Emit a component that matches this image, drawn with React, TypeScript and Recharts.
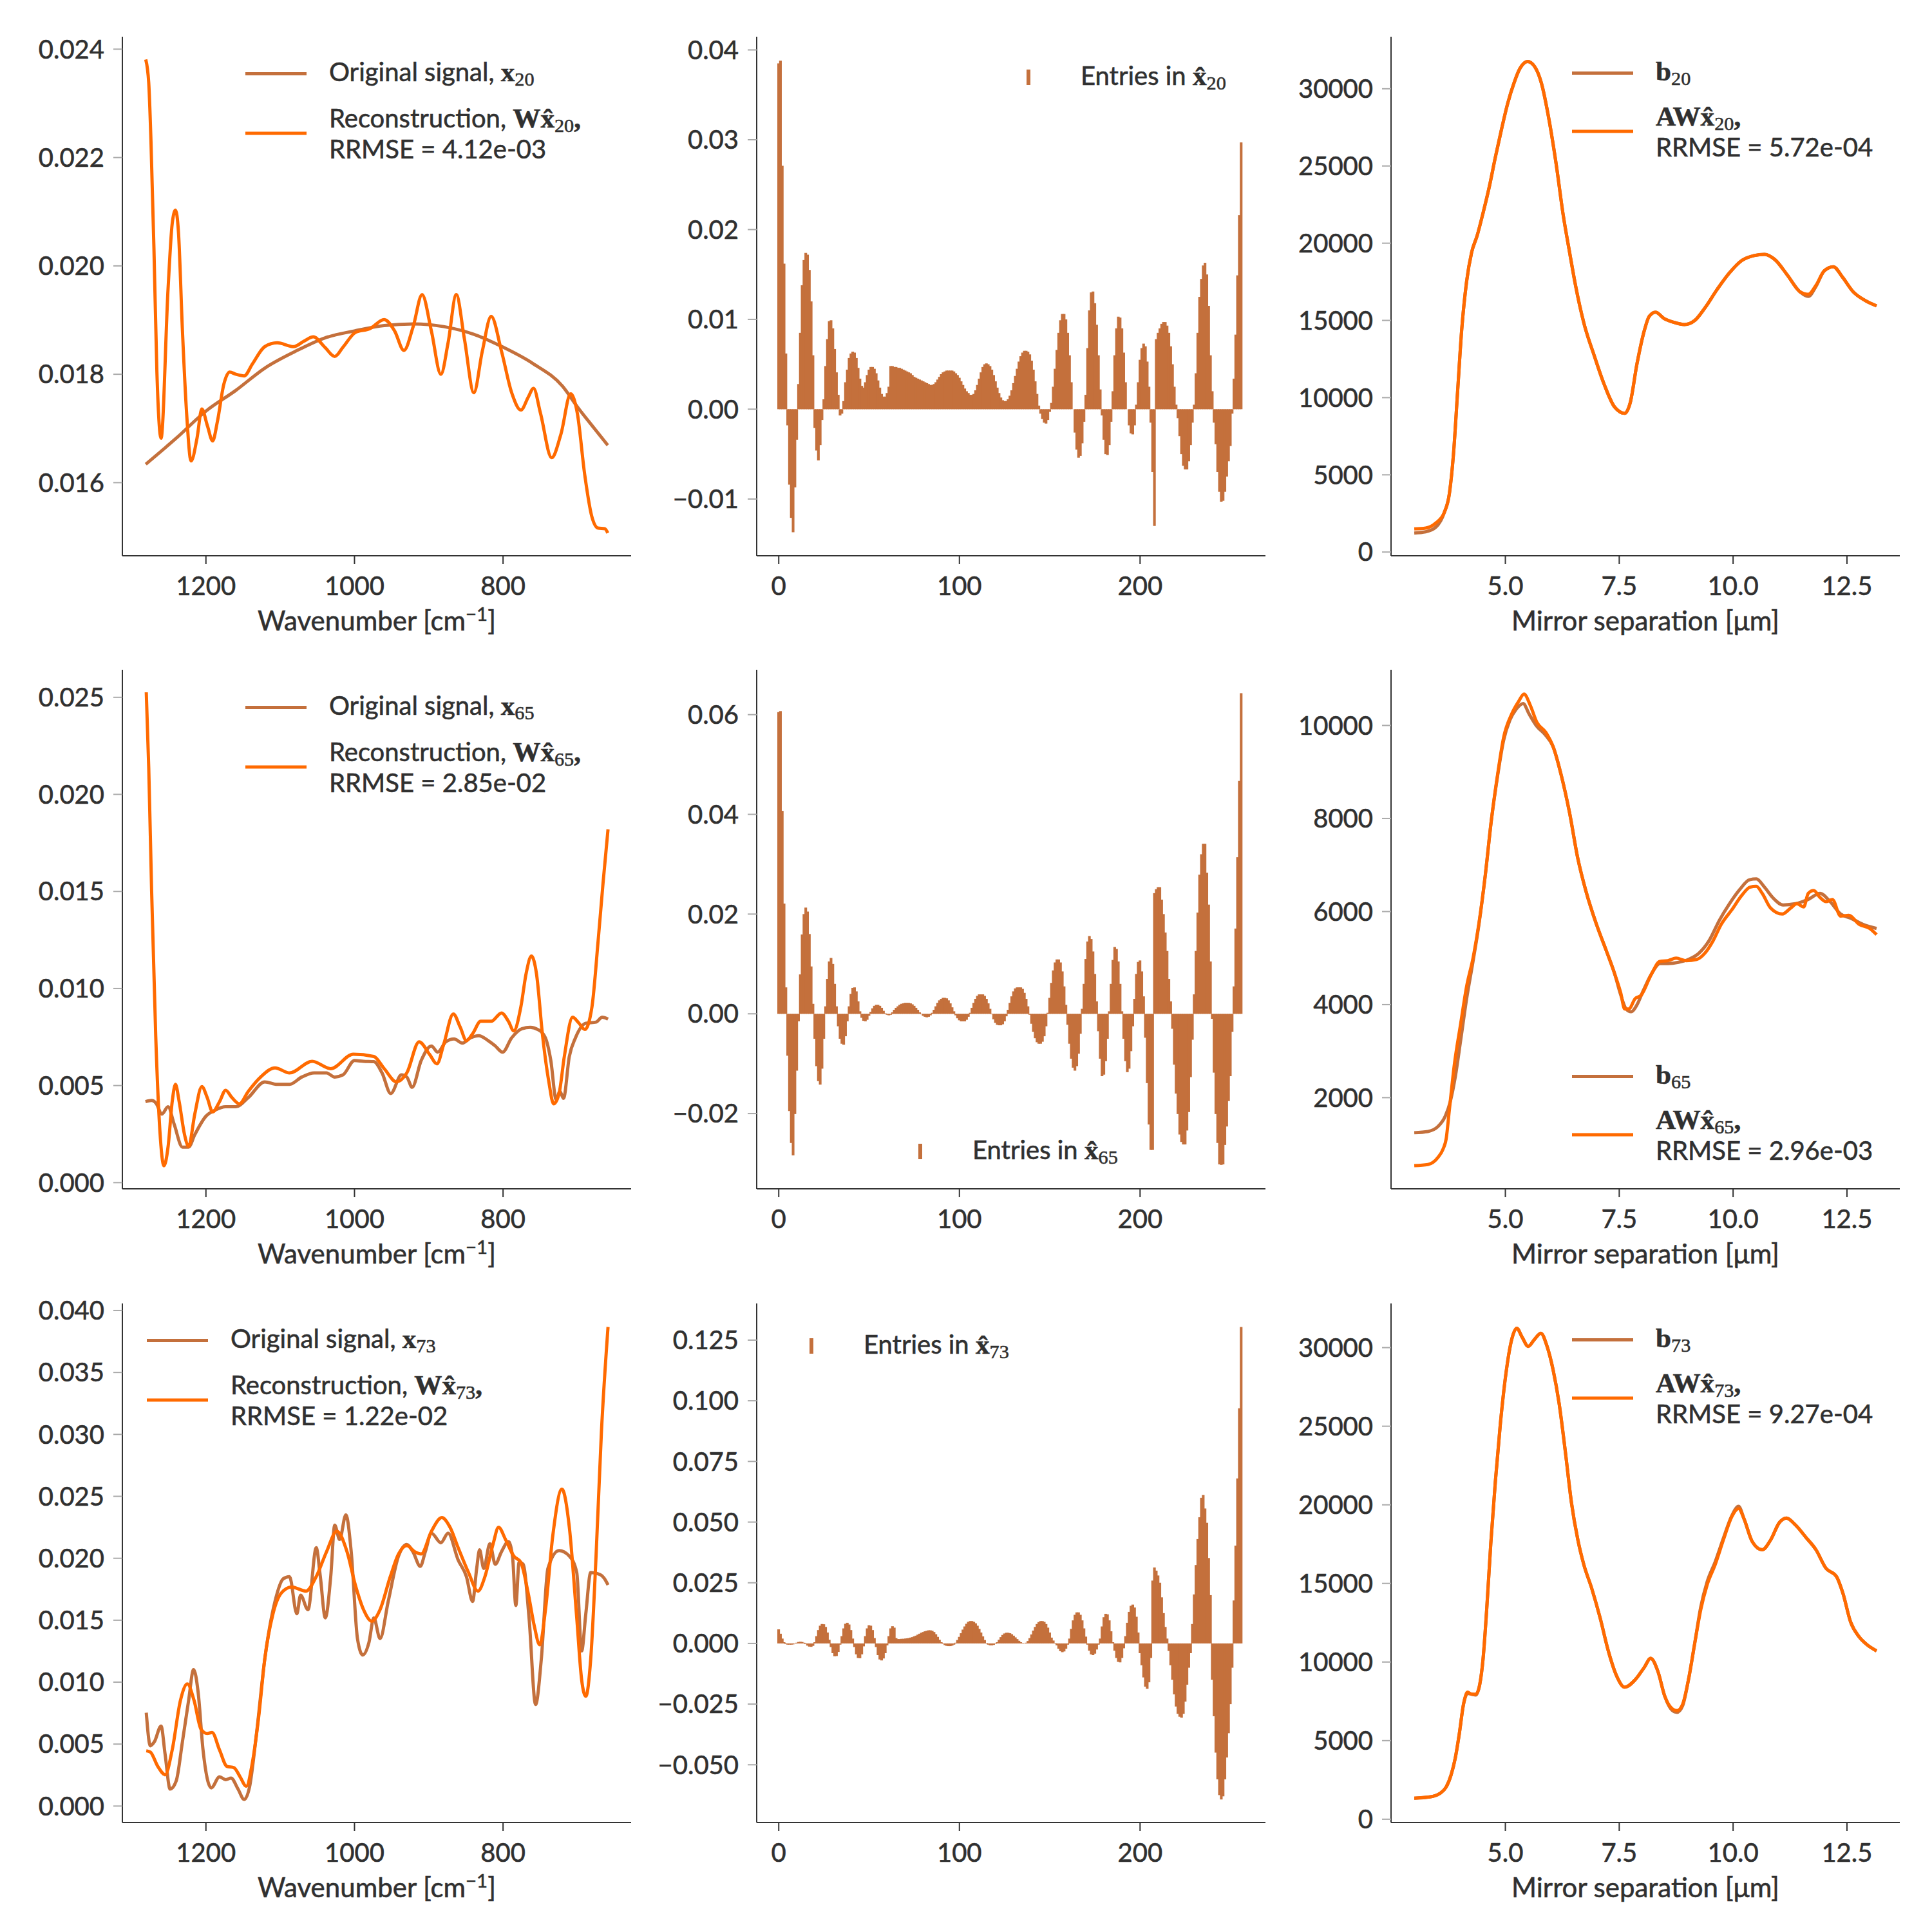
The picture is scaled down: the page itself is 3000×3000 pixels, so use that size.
import React from "react";
import { LineChart, Line, BarChart, Bar, XAxis, YAxis } from "recharts";

const BROWN = "#c4703c";
const ORANGE = "#ff6a00";
const TEXT = "#303030";
const FONT = "Lato, 'Noto Sans', sans-serif";
const MATH = "'Liberation Serif', 'DejaVu Serif', serif";

// plot area grid (px)
const COLS = [190, 1175, 2160];
const ROWS = [57, 1040, 2024];
const PW = 790;
const PH = 806;
const YW = 180;
const XH = 140;
const MT = 40;
const MR = 10;
const LW = 5;

// ---- wavenumber panels: [wavenumber, value]
const orig20: [number, number][] = [
  [1281, 0.01634], [1240, 0.01682], [1200, 0.01732], [1160, 0.0177], [1120, 0.01812], [1080, 0.01842],
  [1040, 0.01867], [1000, 0.0188], [960, 0.0189], [920, 0.01893], [880, 0.01888], [840, 0.01874],
  [800, 0.0185], [760, 0.0182], [720, 0.01778], [700, 0.0174], [680, 0.01705], [659, 0.01669],
];
const rec20: [number, number][] = [
  [1281, 0.02381], [1277, 0.02338], [1274, 0.02231], [1270, 0.02033], [1266, 0.01804], [1260.4, 0.01682],
  [1251, 0.01957], [1245.4, 0.02078], [1241, 0.02103], [1237, 0.02063], [1231.6, 0.0188], [1226, 0.01728],
  [1220, 0.0164], [1212, 0.01682], [1205.5, 0.01736], [1198, 0.01705], [1191, 0.01677], [1184.5, 0.01713],
  [1176, 0.01781], [1168, 0.01804], [1159.6, 0.018], [1148.5, 0.01797], [1137.4, 0.01819], [1120.8, 0.01851],
  [1104, 0.01858], [1082, 0.01851], [1068, 0.01861], [1055.4, 0.01869], [1040, 0.0185], [1026.6, 0.01833],
  [1015.5, 0.0185], [998.9, 0.01877], [979.5, 0.01884], [960, 0.01901], [946, 0.0188], [933.5, 0.01844],
  [921, 0.01888], [909, 0.01947], [896.5, 0.0188], [883.7, 0.018], [874, 0.01858], [863, 0.01947],
  [852, 0.01865], [839.3, 0.01766], [828, 0.01842], [816, 0.01907], [802, 0.01842], [788.4, 0.01766],
  [776, 0.01734], [766, 0.01758], [759, 0.01774], [749.6, 0.01728], [734.6, 0.01646], [722, 0.0169],
  [709, 0.01764], [700, 0.01728], [690, 0.01614], [680.6, 0.01538], [672, 0.01516], [663, 0.01515], [659, 0.01507],
];
const orig65: [number, number][] = [
  [1281.4, 0.00417], [1273.1, 0.00423], [1267, 0.00408], [1259.3, 0.00353], [1251, 0.00391], [1242.7, 0.003],
  [1231.6, 0.00183], [1223.3, 0.00183], [1215, 0.00247], [1200, 0.00342], [1187.3, 0.00374], [1173.4, 0.00391],
  [1159.6, 0.00391], [1143, 0.00438], [1120.8, 0.00519], [1104.2, 0.00506], [1087.5, 0.00506], [1070.9, 0.00544],
  [1054.3, 0.00565], [1037.7, 0.00565], [1026.6, 0.00544], [1015.5, 0.00555], [1000, 0.00629], [987.8, 0.00625],
  [973.9, 0.00623], [962.9, 0.00565], [951.2, 0.00459], [936.8, 0.00555], [929.6, 0.00544], [922.4, 0.00491],
  [910.2, 0.00629], [896.4, 0.00704], [888.1, 0.00672], [877, 0.00725], [865.9, 0.0074], [854.8, 0.00719],
  [843.8, 0.00746], [832.7, 0.00757], [821.6, 0.00736], [810.5, 0.00704], [800.6, 0.00672], [788.4, 0.00746],
  [774.5, 0.00793], [763.5, 0.008], [752.4, 0.00787], [743, 0.00746], [735.7, 0.00629], [728.5, 0.00427],
  [723.5, 0.0047], [718.6, 0.00434], [710.8, 0.0065], [702.5, 0.00746], [688.6, 0.00821], [674.8, 0.00827],
  [666.5, 0.00852], [658.7, 0.00842],
];
const rec65: [number, number][] = [
  [1280.3, 0.02526], [1277, 0.02139], [1273.1, 0.01501], [1267.6, 0.00757], [1262, 0.00268], [1256.5, 0.00087],
  [1251, 0.00183], [1245.4, 0.00417], [1241, 0.00506], [1236, 0.00417], [1228.8, 0.00247], [1223.3, 0.00187],
  [1215, 0.00353], [1205.5, 0.00495], [1198.3, 0.00438], [1191, 0.00364], [1181.7, 0.00417], [1173.4, 0.00476],
  [1165, 0.00438], [1155, 0.00406], [1143, 0.0047], [1126.3, 0.00544], [1107, 0.00591], [1087.5, 0.00565],
  [1057, 0.00625], [1032, 0.00587], [1001.7, 0.00661], [974, 0.0065], [960, 0.00587], [943.5, 0.00519],
  [929.6, 0.00565], [913, 0.00725], [899, 0.00661], [889, 0.00612], [879.8, 0.00714], [867, 0.00869],
  [857.6, 0.008], [849.3, 0.00731], [841, 0.00767], [830, 0.00831], [816, 0.00831], [802, 0.00874],
  [792.8, 0.00831], [785.6, 0.00782], [776, 0.00906], [769, 0.01076], [761.8, 0.01167], [755, 0.01076],
  [746.8, 0.00757], [738.5, 0.00523], [731.9, 0.00406], [724.6, 0.00459], [717.5, 0.0065], [706.4, 0.00852],
  [698.6, 0.00825], [689.8, 0.00789], [680.3, 0.00906], [672, 0.01246], [665.4, 0.01543], [658.7, 0.0182],
];
const orig73: [number, number][] = [
  [1280.3, 0.00753], [1274.8, 0.00486], [1269.3, 0.0052], [1260.4, 0.00646], [1255, 0.0042], [1248.2, 0.00137],
  [1240, 0.00203], [1231.6, 0.0052], [1223.3, 0.00853], [1216.6, 0.01102], [1210.5, 0.00919], [1203.9, 0.00453],
  [1192.8, 0.00147], [1181.7, 0.00236], [1173.4, 0.00213], [1166.2, 0.00226], [1156.8, 0.00137], [1148.5, 0.00053],
  [1141.3, 0.00153], [1131.9, 0.00586], [1120.8, 0.01186], [1107, 0.01652], [1095.8, 0.01835], [1087.5, 0.01852],
  [1077.6, 0.01552], [1072.6, 0.01702], [1062.6, 0.01585], [1051.5, 0.02085], [1046, 0.01852], [1039.3, 0.01519],
  [1032, 0.01852], [1026.6, 0.02268], [1020, 0.02152], [1011.6, 0.02351], [1004.4, 0.02052], [996, 0.01352],
  [988.9, 0.01219], [980.6, 0.01319], [974, 0.01519], [965.6, 0.01352], [954.6, 0.01652], [940.7, 0.02018],
  [929.6, 0.02112], [921.3, 0.02052], [911.4, 0.01935], [904.7, 0.02052], [896.4, 0.02202], [883.7, 0.02125],
  [874, 0.02202], [860.4, 0.01985], [849.3, 0.01852], [841, 0.01652], [835.5, 0.01918], [831.6, 0.02068],
  [826, 0.01918], [817.7, 0.02118], [810.5, 0.01952], [802.2, 0.02052], [792.8, 0.02135], [787.3, 0.02018],
  [782.8, 0.01619], [778.4, 0.01968], [772.9, 0.01952], [765, 0.01519], [756.2, 0.00819], [748.5, 0.01186],
  [739.6, 0.01918], [724.6, 0.02062], [710.8, 0.02018], [700.8, 0.01885], [694.2, 0.01252], [688.6, 0.01552],
  [682, 0.01885], [669.3, 0.01868], [664, 0.0184], [658.7, 0.01785],
];
const rec73: [number, number][] = [
  [1280.3, 0.00446], [1274.8, 0.00436], [1264.8, 0.0032], [1254.8, 0.00253], [1245.4, 0.00453], [1234.3, 0.00853],
  [1225, 0.00986], [1216, 0.00853], [1206.6, 0.0062], [1198.3, 0.00586], [1191.7, 0.00593], [1181.7, 0.00453],
  [1171.7, 0.0032], [1162.3, 0.0031], [1154, 0.00236], [1145.7, 0.0016], [1137.4, 0.00353], [1129, 0.00719],
  [1120.8, 0.01186], [1109.7, 0.01552], [1098.6, 0.01719], [1084.8, 0.01769], [1065.4, 0.01735], [1051.5, 0.01852],
  [1037.7, 0.02052], [1023.8, 0.02218], [1010, 0.02052], [998.9, 0.01785], [987.8, 0.01585], [976.7, 0.01492],
  [965.6, 0.01585], [951.8, 0.01852], [940.7, 0.02035], [929.6, 0.02102], [918.6, 0.02052], [910.2, 0.02035],
  [896.4, 0.02218], [882.5, 0.02328], [871.5, 0.02252], [860.4, 0.02085], [846.5, 0.01885], [833.8, 0.01735],
  [824.4, 0.01852], [813.3, 0.02118], [806.1, 0.02251], [796.7, 0.02152], [785.6, 0.02018], [776.2, 0.01968],
  [766.2, 0.01719], [757.9, 0.01452], [750.7, 0.01302], [742.9, 0.01585], [733, 0.02185], [720.8, 0.02558],
  [710.8, 0.02252], [700.8, 0.01519], [694.2, 0.01019], [688.6, 0.00886], [682, 0.01186], [674.8, 0.02018],
  [667.6, 0.03017], [658.7, 0.03867],
];

// ---- coefficient panels: entries 0..256
const xhat20 = [
  0.0385, 0.0388, 0.0271, 0.0162, 0.0062, -0.0018, -0.0084, -0.0121, -0.0137, -0.0087,
  -0.0034, 0.0028, 0.0085, 0.0138, 0.0166, 0.0174, 0.0172, 0.0155, 0.012, 0.006,
  -0.0021, -0.0046, -0.0057, -0.004, -0.0012, 0.0011, 0.0048, 0.0078, 0.0098, 0.0099,
  0.009, 0.0067, 0.0041, 0.0016, -0.0007, -0.0005, 0.0009, 0.003, 0.0044, 0.0057,
  0.0062, 0.0064, 0.0063, 0.0057, 0.0046, 0.0034, 0.0026, 0.0024, 0.003, 0.0038,
  0.0044, 0.0047, 0.0047, 0.0045, 0.004, 0.0032, 0.0024, 0.0017, 0.0014, 0.0014,
  0.0018, 0.0025, 0.0048, 0.0048, 0.0047, 0.0047, 0.0046, 0.0046, 0.0045, 0.0044,
  0.0043, 0.0042, 0.0041, 0.004, 0.0038, 0.0036, 0.0035, 0.0034, 0.0033, 0.0032,
  0.0031, 0.003, 0.0029, 0.0028, 0.0027, 0.0027, 0.0028, 0.003, 0.0033, 0.0036,
  0.0039, 0.0041, 0.0042, 0.0043, 0.0043, 0.0043, 0.0043, 0.0042, 0.004, 0.0038,
  0.0035, 0.0031, 0.0027, 0.0023, 0.002, 0.0018, 0.0016, 0.0016, 0.0017, 0.0021,
  0.0027, 0.0034, 0.0041, 0.0047, 0.005, 0.0051, 0.005, 0.0048, 0.0044, 0.0038,
  0.0031, 0.0024, 0.0018, 0.0013, 0.001, 0.0009, 0.0009, 0.0011, 0.0015, 0.0021,
  0.0029, 0.0037, 0.0045, 0.0053, 0.0059, 0.0063, 0.0065, 0.0065, 0.0064, 0.0061,
  0.0054, 0.0044, 0.0031, 0.0017, 0.0004, -0.0005, -0.0011, -0.0015, -0.0016, -0.0012,
  -0.0003, 0.0007, 0.0025, 0.0045, 0.0066, 0.0085, 0.0099, 0.0106, 0.0106, 0.01,
  0.0085, 0.006, 0.003, 0.0, -0.0026, -0.0045, -0.0054, -0.0052, -0.0038, -0.0014,
  0.0016, 0.0068, 0.011, 0.013, 0.0131, 0.0118, 0.0094, 0.006, 0.0022, -0.0007,
  -0.0034, -0.005, -0.0051, -0.004, -0.0014, 0.002, 0.006, 0.009, 0.0103, 0.0102,
  0.009, 0.0063, 0.003, 0.0, -0.0018, -0.0027, -0.0028, -0.0018, 0.0005, 0.003,
  0.0055, 0.0068, 0.0073, 0.007, 0.0053, 0.0025, -0.0015, -0.007, -0.013, 0.0078,
  0.0085, 0.009, 0.0095, 0.0097, 0.0097, 0.0093, 0.0085, 0.007, 0.005, 0.0025,
  0.0005, -0.001, -0.003, -0.005, -0.0063, -0.0067, -0.0067, -0.0058, -0.004, -0.0015,
  0.0005, 0.004, 0.0085, 0.0125, 0.0145, 0.016, 0.0163, 0.015, 0.0115, 0.006,
  0.002, -0.0015, -0.0039, -0.007, -0.0092, -0.0103, -0.0102, -0.0092, -0.0075, -0.0058,
  -0.0041, -0.0005, 0.0034, 0.0083, 0.0149, 0.0216, 0.0297,
];
const xhat65 = [
  0.0605, 0.0607, 0.0407, 0.0221, 0.0053, -0.0084, -0.0195, -0.0259, -0.0284, -0.0201,
  -0.0114, -0.0015, 0.0079, 0.0159, 0.02, 0.0213, 0.0205, 0.016, 0.0095, 0.002,
  -0.005, -0.0105, -0.0135, -0.0142, -0.011, -0.005, 0.0015, 0.007, 0.0105, 0.0112,
  0.01, 0.006, 0.0015, -0.0025, -0.005, -0.006, -0.0062, -0.0045, -0.0015, 0.0015,
  0.004, 0.0052, 0.0053, 0.0045, 0.0025, 0.0005, -0.0008, -0.0014, -0.0015, -0.0012,
  -0.0004, 0.0004, 0.0011, 0.0016, 0.0018, 0.0018, 0.0016, 0.0012, 0.0006, 0.0001,
  -0.0002, -0.0003, -0.0002, 0.0003, 0.0008, 0.0012, 0.0015, 0.0018, 0.002, 0.0021,
  0.0022, 0.0022, 0.0022, 0.0021, 0.0019, 0.0016, 0.0012, 0.0008, 0.0003, -0.0001,
  -0.0004, -0.0006, -0.0007, -0.0006, -0.0003, 0.0002, 0.0008, 0.0015, 0.0022, 0.0027,
  0.003, 0.0032, 0.0032, 0.0031, 0.0027, 0.0021, 0.0013, 0.0005, -0.0003, -0.0009,
  -0.0013, -0.0015, -0.0015, -0.0015, -0.0012, -0.0006, 0.0002, 0.0012, 0.0022, 0.003,
  0.0036, 0.0039, 0.0039, 0.0039, 0.0036, 0.003, 0.0021, 0.001, -0.0001, -0.0011,
  -0.0018, -0.0022, -0.0023, -0.0023, -0.0021, -0.0015, -0.0005, 0.0008, 0.0022, 0.0035,
  0.0045, 0.0051, 0.0053, 0.0053, 0.0053, 0.005, 0.0042, 0.003, 0.0015, -0.0002,
  -0.002, -0.0036, -0.0049, -0.0057, -0.006, -0.006, -0.0056, -0.0045, -0.0025, 0.0002,
  0.0032, 0.0062, 0.0087, 0.0103, 0.0109, 0.0109, 0.0103, 0.0085, 0.0055, 0.0018,
  -0.0022, -0.006, -0.009, -0.0108, -0.0114, -0.0105, -0.008, -0.004, 0.001, 0.006,
  0.011, 0.0145, 0.0156, 0.015, 0.0125, 0.008, 0.0025, -0.0035, -0.009, -0.0125,
  -0.0122, -0.0095, -0.005, 0.0005, 0.006, 0.0108, 0.0134, 0.013, 0.0105, 0.006,
  0.0005, -0.005, -0.0095, -0.0117, -0.011, -0.0075, -0.0025, 0.003, 0.008, 0.0104,
  0.0107, 0.0085, 0.0035, -0.0048, -0.0139, -0.0222, -0.0273, -0.0273, 0.0242, 0.025,
  0.0254, 0.0254, 0.0229, 0.02, 0.0163, 0.0126, 0.007, 0.0025, -0.003, -0.0102,
  -0.016, -0.0201, -0.0242, -0.0257, -0.0262, -0.0262, -0.0234, -0.0197, -0.0127, -0.0052,
  0.0039, 0.0126, 0.0203, 0.0279, 0.032, 0.0341, 0.0341, 0.0283, 0.0219, 0.0105,
  -0.001, -0.0118, -0.0201, -0.0259, -0.0302, -0.0303, -0.0302, -0.0263, -0.0226, -0.0175,
  -0.0125, -0.0036, 0.0055, 0.0171, 0.0314, 0.0467, 0.0643,
];
const xhat73 = [
  0.0058, 0.004, 0.002, 0.0005, -0.0003, -0.0005, -0.0005, -0.0005, -0.0004, -0.0001,
  0.0003, 0.0006, 0.0007, 0.0006, 0.0003, -0.0003, -0.0009, -0.0013, -0.0014, -0.001,
  0.0005, 0.003, 0.0055, 0.0073, 0.008, 0.0079, 0.0068, 0.0045, 0.0015, -0.0015,
  -0.004, -0.0053, -0.0052, -0.0035, -0.0005, 0.003, 0.0062, 0.0081, 0.0085, 0.0078,
  0.0055, 0.002, -0.0015, -0.0045, -0.006, -0.0061, -0.0045, -0.0012, 0.003, 0.0062,
  0.0075, 0.0073, 0.0055, 0.0022, -0.0015, -0.0048, -0.0066, -0.007, -0.0062, -0.004,
  -0.0008, 0.003, 0.0062, 0.0071, 0.0065, 0.0022, 0.0018, 0.0018, 0.0019, 0.0019,
  0.002, 0.0021, 0.0022, 0.0024, 0.0026, 0.0029, 0.0032, 0.0036, 0.004, 0.0044,
  0.0047, 0.005, 0.0052, 0.0054, 0.0054, 0.0052, 0.0047, 0.0038, 0.0027, 0.0015,
  0.0005, -0.0002, -0.0007, -0.001, -0.0011, -0.0011, -0.0009, -0.0005, 0.0003, 0.0014,
  0.0027, 0.0042, 0.0057, 0.007, 0.0081, 0.0089, 0.0092, 0.0092, 0.0089, 0.0083,
  0.0073, 0.006, 0.0045, 0.0029, 0.0014, 0.0002, -0.0005, -0.0008, -0.0008, -0.0006,
  -0.0002, 0.0005, 0.0015, 0.0026, 0.0035, 0.0041, 0.0044, 0.0044, 0.0042, 0.0038,
  0.0032, 0.0025, 0.0018, 0.0011, 0.0005, 0.0002, 0.0001, 0.0003, 0.001, 0.0022,
  0.0037, 0.0053, 0.0068, 0.008, 0.0088, 0.0092, 0.0092, 0.0089, 0.008, 0.0065,
  0.0045, 0.0024, 0.0012, 0.0002, -0.0008, -0.0022, -0.0032, -0.0036, -0.0033, -0.0022,
  -0.0005, 0.002, 0.006, 0.0095, 0.0118, 0.0128, 0.0128, 0.0118, 0.0095, 0.0062,
  0.0028, -0.0005, -0.003, -0.0045, -0.0048, -0.0042, -0.0025, -0.0005, 0.002, 0.007,
  0.0108, 0.0122, 0.012, 0.0095, 0.005, 0.0005, -0.003, -0.006, -0.0076, -0.0078,
  -0.006, -0.002, 0.003, 0.0085, 0.013, 0.0155, 0.016, 0.0148, 0.011, 0.0045,
  -0.004, -0.009, -0.014, -0.0178, -0.0187, -0.016, -0.006, 0.0259, 0.0313, 0.03,
  0.028, 0.025, 0.019, 0.0125, 0.0068, 0.002, -0.0031, -0.009, -0.015, -0.021,
  -0.026, -0.029, -0.0302, -0.0306, -0.029, -0.024, -0.017, -0.01, -0.004, 0.008,
  0.0202, 0.0323, 0.043, 0.052, 0.06, 0.0612, 0.0556, 0.0497, 0.0352, 0.0199,
  -0.015, -0.03, -0.045, -0.056, -0.0625, -0.0643, -0.063, -0.056, -0.047, -0.037,
  -0.025, -0.01, 0.0177, 0.0403, 0.068, 0.0969, 0.1304,
];

// ---- mirror separation panels: [separation um, value]
const b20: [number, number][] = [
  [3.0, 1230], [3.25, 1310], [3.48, 1630], [3.66, 2567], [3.77, 3770], [3.86, 6311], [3.95, 10322], [4.04, 14333],
  [4.15, 17541], [4.26, 19413], [4.38, 20483], [4.51, 21954], [4.65, 23692], [4.78, 25563], [4.92, 27435],
  [5.05, 29040], [5.19, 30377], [5.32, 31313], [5.49, 31767], [5.64, 31447], [5.79, 30377], [5.96, 27970],
  [6.12, 25029], [6.27, 21820], [6.41, 19413], [6.54, 17274], [6.72, 14867], [6.95, 12728], [7.17, 10856],
  [7.4, 9386], [7.62, 8985], [7.74, 9653], [7.89, 12193], [8.05, 14333], [8.16, 15269], [8.3, 15536],
  [8.48, 15135], [8.71, 14867], [8.93, 14734], [9.16, 15001], [9.38, 15804], [9.65, 17007], [9.92, 18077],
  [10.19, 18879], [10.46, 19199], [10.69, 19279], [10.92, 18932], [11.19, 17942], [11.46, 16873], [11.65, 16550],
  [11.82, 17200], [12.0, 18210], [12.2, 18478], [12.4, 17809], [12.63, 16873], [12.9, 16285], [13.15, 15937],
];
const aw20: [number, number][] = [
  [3.0, 1497], [3.25, 1550], [3.48, 1900], [3.66, 2567], [3.77, 3770], [3.86, 6311], [3.95, 10322], [4.04, 14333],
  [4.15, 17541], [4.26, 19413], [4.38, 20483], [4.51, 21954], [4.65, 23692], [4.78, 25563], [4.92, 27435],
  [5.05, 29040], [5.19, 30377], [5.32, 31313], [5.49, 31767], [5.64, 31447], [5.79, 30377], [5.96, 27970],
  [6.12, 25029], [6.27, 21820], [6.41, 19413], [6.54, 17274], [6.72, 14867], [6.95, 12728], [7.17, 10856],
  [7.4, 9386], [7.62, 8985], [7.74, 9653], [7.89, 12193], [8.05, 14333], [8.16, 15269], [8.3, 15536],
  [8.48, 15135], [8.71, 14867], [8.93, 14734], [9.16, 15001], [9.38, 15804], [9.65, 17007], [9.92, 18077],
  [10.19, 18879], [10.46, 19199], [10.69, 19279], [10.92, 18932], [11.19, 17942], [11.46, 16873], [11.65, 16686],
  [11.82, 17274], [12.0, 18210], [12.2, 18478], [12.4, 17809], [12.63, 16873], [12.9, 16285], [13.15, 15937],
];
const b65: [number, number][] = [
  [3.0, 1246], [3.3, 1273], [3.52, 1379], [3.68, 1601], [3.79, 1911], [3.9, 2443], [4.02, 3242], [4.15, 4129],
  [4.29, 4927], [4.42, 5725], [4.56, 6789], [4.69, 7942], [4.83, 8918], [4.96, 9672], [5.1, 10115], [5.23, 10337],
  [5.39, 10470], [5.52, 10248], [5.69, 9982], [5.87, 9805], [6.05, 9539], [6.23, 8918], [6.41, 8120], [6.59, 7144],
  [6.77, 6435], [7.0, 5725], [7.22, 5148], [7.4, 4661], [7.53, 4217], [7.65, 3907], [7.76, 3845], [7.89, 3996],
  [8.03, 4306], [8.21, 4661], [8.39, 4882], [8.57, 4882], [8.8, 4909], [9.02, 4971], [9.25, 5104], [9.47, 5370],
  [9.7, 5814], [9.92, 6168], [10.15, 6479], [10.36, 6683], [10.51, 6700], [10.69, 6523], [10.87, 6301],
  [11.1, 6142], [11.37, 6168], [11.64, 6257], [11.91, 6390], [12.13, 6213], [12.36, 5947], [12.58, 5858],
  [12.85, 5725], [13.15, 5636],
];
const aw65: [number, number][] = [
  [3.0, 537], [3.3, 563], [3.52, 714], [3.63, 891], [3.7, 1113], [3.77, 1734], [3.88, 2709], [4.02, 3597],
  [4.15, 4395], [4.29, 5000], [4.42, 5750], [4.56, 6789], [4.69, 7942], [4.83, 8950], [4.96, 9734], [5.14, 10248],
  [5.29, 10514], [5.41, 10674], [5.55, 10426], [5.69, 10071], [5.89, 9849], [6.05, 9539], [6.23, 8918],
  [6.41, 8120], [6.59, 7144], [6.77, 6435], [7.0, 5725], [7.22, 5148], [7.4, 4661], [7.53, 4262], [7.62, 3907],
  [7.71, 3907], [7.85, 4129], [7.98, 4200], [8.21, 4661], [8.39, 4927], [8.57, 4945], [8.75, 4998], [8.97, 4945],
  [9.2, 4971], [9.38, 5104], [9.56, 5370], [9.74, 5725], [9.97, 6035], [10.19, 6346], [10.37, 6523], [10.51, 6541],
  [10.64, 6390], [10.82, 6080], [11.08, 5947], [11.27, 6080], [11.4, 6168], [11.55, 6098], [11.65, 6390],
  [11.77, 6452], [11.91, 6301], [12.04, 6213], [12.18, 6257], [12.36, 5902], [12.54, 5920], [12.77, 5725],
  [13.0, 5636], [13.15, 5503],
];
const b73: [number, number][] = [
  [3.0, 1339], [3.34, 1417], [3.57, 1654], [3.7, 2047], [3.81, 2835], [3.9, 3885], [3.99, 5459], [4.08, 7297],
  [4.17, 8000], [4.26, 7953], [4.35, 7900], [4.44, 8609], [4.51, 10184], [4.59, 13333], [4.68, 17533],
  [4.78, 21470], [4.89, 25145], [5.01, 28294], [5.14, 30525], [5.25, 31234], [5.37, 30656], [5.5, 30079],
  [5.64, 30525], [5.78, 30919], [5.91, 30131], [6.05, 28557], [6.18, 26457], [6.32, 23307], [6.45, 20158],
  [6.59, 17796], [6.72, 16221], [6.9, 14646], [7.08, 12809], [7.26, 10709], [7.44, 9134], [7.62, 8399],
  [7.85, 8871], [8.05, 9659], [8.19, 10236], [8.35, 9397], [8.5, 7822], [8.66, 6934], [8.77, 6800],
  [8.89, 7200], [9.02, 8872], [9.16, 11234], [9.29, 13500], [9.43, 15100], [9.61, 16400], [9.79, 17900],
  [9.97, 19300], [10.12, 19900], [10.24, 19108], [10.42, 17664], [10.64, 17139], [10.83, 17795], [11.01, 18845],
  [11.17, 19160], [11.37, 18714], [11.6, 17926], [11.82, 17139], [12.04, 15958], [12.27, 15433], [12.41, 14383],
  [12.58, 12546], [12.76, 11627], [12.94, 11102], [13.15, 10709],
];
const aw73: [number, number][] = [
  [3.0, 1339], [3.34, 1417], [3.57, 1654], [3.7, 2047], [3.81, 2835], [3.9, 3885], [3.99, 5459], [4.08, 7297],
  [4.17, 8084], [4.26, 7953], [4.35, 7953], [4.44, 8609], [4.51, 10184], [4.59, 13333], [4.68, 17533],
  [4.78, 21470], [4.89, 25145], [5.01, 28294], [5.14, 30525], [5.25, 31234], [5.37, 30656], [5.5, 30079],
  [5.64, 30525], [5.78, 30919], [5.91, 30131], [6.05, 28557], [6.18, 26457], [6.32, 23307], [6.45, 20158],
  [6.59, 17796], [6.72, 16221], [6.9, 14646], [7.08, 12809], [7.26, 10709], [7.44, 9134], [7.62, 8399],
  [7.85, 8871], [8.05, 9659], [8.19, 10236], [8.35, 9397], [8.5, 7822], [8.66, 7034], [8.77, 6903],
  [8.89, 7297], [9.02, 8872], [9.16, 11234], [9.29, 13333], [9.43, 14908], [9.61, 16221], [9.79, 17795],
  [9.97, 19239], [10.12, 19764], [10.24, 19108], [10.42, 17664], [10.64, 17139], [10.83, 17795], [11.01, 18845],
  [11.17, 19160], [11.37, 18714], [11.6, 17926], [11.82, 17139], [12.04, 15958], [12.27, 15433], [12.41, 14383],
  [12.58, 12546], [12.76, 11627], [12.94, 11102], [13.15, 10709],
];

// ---- tick values
const wnTicks = [1200, 1000, 800];
const sepTicks = [5, 7.5, 10, 12.5];
const idxTicks = [0, 100, 200];
const y20Ticks = [0.016, 0.018, 0.02, 0.022, 0.024];
const y65Ticks = [0, 0.005, 0.01, 0.015, 0.02, 0.025];
const y73Ticks = [0, 0.005, 0.01, 0.015, 0.02, 0.025, 0.03, 0.035, 0.04];
const c20Ticks = [-0.01, 0, 0.01, 0.02, 0.03, 0.04];
const c65Ticks = [-0.02, 0, 0.02, 0.04, 0.06];
const c73Ticks = [-0.05, -0.025, 0, 0.025, 0.05, 0.075, 0.1, 0.125];
const b20Ticks = [0, 5000, 10000, 15000, 20000, 25000, 30000];
const b65Ticks = [2000, 4000, 6000, 8000, 10000];
const b73Ticks = [0, 5000, 10000, 15000, 20000, 25000, 30000];

const fmt = (dec: number) => (v: number) => {
  const s = v.toFixed(dec);
  return s.startsWith("-") ? "\u2212" + s.slice(1) : s;
};
const toPts = (arr: [number, number][]) => arr.map(([x, y]) => ({ x, y }));

const tickStyle = { fontSize: 40, fill: TEXT, stroke: TEXT, strokeWidth: 0.6 };
const xAxisProps = {
  type: "number" as const,
  allowDataOverflow: true,
  interval: 0 as const,
  height: XH,
  tick: tickStyle,
  tickSize: 13,
  tickMargin: 20,
  tickLine: { stroke: "#333", strokeWidth: 2 },
  axisLine: { stroke: "#333", strokeWidth: 2 },
};
const yAxisProps = {
  type: "number" as const,
  allowDataOverflow: true,
  interval: 0 as const,
  width: YW,
  tick: tickStyle,
  tickSize: 14,
  tickMargin: 14,
  tickLine: { stroke: "#aaaaaa", strokeWidth: 2 },
  axisLine: { stroke: "#333", strokeWidth: 2 },
};

// bars touch each other in the reference, so widen each a little past the band
function SolidBar(props: any) {
  const { x, y, width, height, fill } = props;
  if (width == null || height == null) return null;
  const top = height < 0 ? y + height : y;
  return <rect x={x - 0.8} y={top} width={width + 1.6} height={Math.abs(height)} fill={fill} />;
}

function Sub({ children }: { children: React.ReactNode }) {
  return (
    <span style={{ fontSize: "0.7em", fontWeight: 400, position: "relative", top: "0.22em" }}>{children}</span>
  );
}
function M({ children }: { children: React.ReactNode }) {
  return <span style={{ fontFamily: MATH, fontWeight: 700, fontSize: "1.08em" }}>{children}</span>;
}
const HAT_X = "x\u0302";

type Item = { color: string; kind: "line" | "bar"; body: React.ReactNode };

function LegendItem({ x, y, item }: { x: number; y: number; item: Item }) {
  const isBar = item.kind === "bar";
  return (
    <div
      style={{
        position: "absolute",
        left: isBar ? x - 3 : x,
        top: y,
        transform: "translateY(-50%)",
        display: "flex",
        alignItems: "center",
        whiteSpace: "nowrap",
      }}
    >
      {isBar ? (
        <div style={{ width: 6, height: 24, background: item.color }} />
      ) : (
        <div style={{ width: 95, height: LW, background: item.color }} />
      )}
      <div
        style={{
          marginLeft: isBar ? 78 : 35,
          fontSize: 40,
          lineHeight: "43px",
          color: TEXT,
          WebkitTextStroke: `0.6px ${TEXT}`,
        }}
      >
        {item.body}
      </div>
    </div>
  );
}

function Panel({
  col,
  row,
  chart,
  legend,
  xTitle,
}: {
  col: number;
  row: number;
  chart: React.ReactNode;
  legend: { x: number; ys: number[]; items: Item[] };
  xTitle?: React.ReactNode;
}) {
  return (
    <>
      <div style={{ position: "absolute", left: COLS[col] - YW, top: ROWS[row] - MT }}>{chart}</div>
      <div style={{ position: "absolute", left: COLS[col], top: ROWS[row], width: PW, height: PH }}>
        {legend.items.map((it, k) => (
          <LegendItem key={k} x={legend.x} y={legend.ys[k]} item={it} />
        ))}
      </div>
      {xTitle ? (
        <div
          style={{
            position: "absolute",
            left: COLS[col],
            width: PW,
            top: ROWS[row] + PH + 100,
            transform: "translateY(-50%)",
            textAlign: "center",
            fontSize: 42,
            color: TEXT,
            WebkitTextStroke: `0.6px ${TEXT}`,
            whiteSpace: "nowrap",
          }}
        >
          {xTitle}
        </div>
      ) : null}
    </>
  );
}

const chartSize = { width: PW + YW + MR, height: PH + MT + XH, margin: { top: MT, right: MR, left: 0, bottom: 0 } };

function SpectrumChart({ orig, rec, domain, ticks }: { orig: any; rec: any; domain: number[]; ticks: number[] }) {
  return (
    <LineChart {...chartSize}>
      <XAxis {...xAxisProps} dataKey="x" domain={[627.6, 1312.5]} reversed ticks={wnTicks} tickFormatter={fmt(0)} />
      <YAxis {...yAxisProps} domain={domain} ticks={ticks} tickFormatter={fmt(3)} />
      <Line data={toPts(orig)} dataKey="y" type="monotone" stroke={BROWN} strokeWidth={LW} dot={false} isAnimationActive={false} />
      <Line data={toPts(rec)} dataKey="y" type="monotone" stroke={ORANGE} strokeWidth={LW} dot={false} isAnimationActive={false} />
    </LineChart>
  );
}

function CoefChart({ values, domain, ticks, dec }: { values: number[]; domain: number[]; ticks: number[]; dec: number }) {
  const data = values.map((v, i) => ({ i, v }));
  return (
    <BarChart {...chartSize} data={data}>
      <XAxis {...xAxisProps} dataKey="i" domain={[-12.2, 269.4]} ticks={idxTicks} tickFormatter={fmt(0)} />
      <YAxis {...yAxisProps} domain={domain} ticks={ticks} tickFormatter={fmt(dec)} />
      <Bar dataKey="v" fill={BROWN} barSize={3} shape={<SolidBar />} isAnimationActive={false} />
    </BarChart>
  );
}

function MeasChart({ b, aw, domain, ticks }: { b: any; aw: any; domain: number[]; ticks: number[] }) {
  return (
    <LineChart {...chartSize}>
      <XAxis {...xAxisProps} dataKey="x" domain={[2.49, 13.66]} ticks={sepTicks} tickFormatter={fmt(1)} />
      <YAxis {...yAxisProps} domain={domain} ticks={ticks} tickFormatter={fmt(0)} />
      <Line data={toPts(b)} dataKey="y" type="monotone" stroke={BROWN} strokeWidth={LW} dot={false} isAnimationActive={false} />
      <Line data={toPts(aw)} dataKey="y" type="monotone" stroke={ORANGE} strokeWidth={LW} dot={false} isAnimationActive={false} />
    </LineChart>
  );
}

const wnTitle = (
  <span>
    Wavenumber [cm<span style={{ fontSize: "0.7em", position: "relative", top: "-0.5em" }}>{"\u22121"}</span>]
  </span>
);
const sepTitle = <span>Mirror separation [μm]</span>;

function specLegend(n: string, rr: string, x: number, ys: number[]) {
  return {
    x,
    ys,
    items: [
      { color: BROWN, kind: "line" as const, body: <span>Original signal, <M>x<Sub>{n}</Sub></M></span> },
      {
        color: ORANGE,
        kind: "line" as const,
        body: (
          <span>
            Reconstruction, <M>W{HAT_X}<Sub>{n}</Sub>,</M>
            <br />
            RRMSE = {rr}
          </span>
        ),
      },
    ],
  };
}
function measLegend(n: string, rr: string, x: number, ys: number[]) {
  return {
    x,
    ys,
    items: [
      { color: BROWN, kind: "line" as const, body: <M>b<Sub>{n}</Sub></M> },
      {
        color: ORANGE,
        kind: "line" as const,
        body: (
          <span>
            <M>AW{HAT_X}<Sub>{n}</Sub>,</M>
            <br />
            RRMSE = {rr}
          </span>
        ),
      },
    ],
  };
}
function coefLegend(n: string, x: number, y: number) {
  return {
    x,
    ys: [y],
    items: [{ color: BROWN, kind: "bar" as const, body: <span>Entries in <M>{HAT_X}<Sub>{n}</Sub></M></span> }],
  };
}

export default function App() {
  return (
    <div
      style={{
        position: "absolute",
        left: 0,
        top: 0,
        width: 3000,
        height: 3000,
        background: "#fff",
        fontFamily: FONT,
        color: TEXT,
      }}
    >
      <Panel col={0} row={0} xTitle={wnTitle} legend={specLegend("20", "4.12e-03", 191, [57, 150])}
        chart={<SpectrumChart orig={orig20} rec={rec20} domain={[0.01465, 0.02423]} ticks={y20Ticks} />} />
      <Panel col={1} row={0} legend={coefLegend("20", 422, 63)}
        chart={<CoefChart values={xhat20} domain={[-0.01632, 0.04147]} ticks={c20Ticks} dec={2} />} />
      <Panel col={2} row={0} xTitle={sepTitle} legend={measLegend("20", "5.72e-04", 281, [56, 147])}
        chart={<MeasChart b={b20} aw={aw20} domain={[-241, 33371]} ticks={b20Ticks} />} />

      <Panel col={0} row={1} xTitle={wnTitle} legend={specLegend("65", "2.85e-02", 191, [58, 151])}
        chart={<SpectrumChart orig={orig65} rec={rec65} domain={[-0.00032, 0.02642]} ticks={y65Ticks} />} />
      <Panel col={1} row={1} legend={coefLegend("65", 254, 748)}
        chart={<CoefChart values={xhat65} domain={[-0.0351, 0.069]} ticks={c65Ticks} dec={2} />} />
      <Panel col={2} row={1} xTitle={sepTitle} legend={measLegend("65", "2.96e-03", 281, [631, 722])}
        chart={<MeasChart b={b65} aw={aw65} domain={[40, 11197]} ticks={b65Ticks} />} />

      <Panel col={0} row={2} xTitle={wnTitle} legend={specLegend("73", "1.22e-02", 38, [57, 150])}
        chart={<SpectrumChart orig={orig73} rec={rec73} domain={[-0.00133, 0.04057]} ticks={y73Ticks} />} />
      <Panel col={1} row={2} legend={coefLegend("73", 85, 66)}
        chart={<CoefChart values={xhat73} domain={[-0.0738, 0.1401]} ticks={c73Ticks} dec={3} />} />
      <Panel col={2} row={2} xTitle={sepTitle} legend={measLegend("73", "9.27e-04", 281, [56, 147])}
        chart={<MeasChart b={b73} aw={aw73} domain={[-210, 32809]} ticks={b73Ticks} />} />
    </div>
  );
}
